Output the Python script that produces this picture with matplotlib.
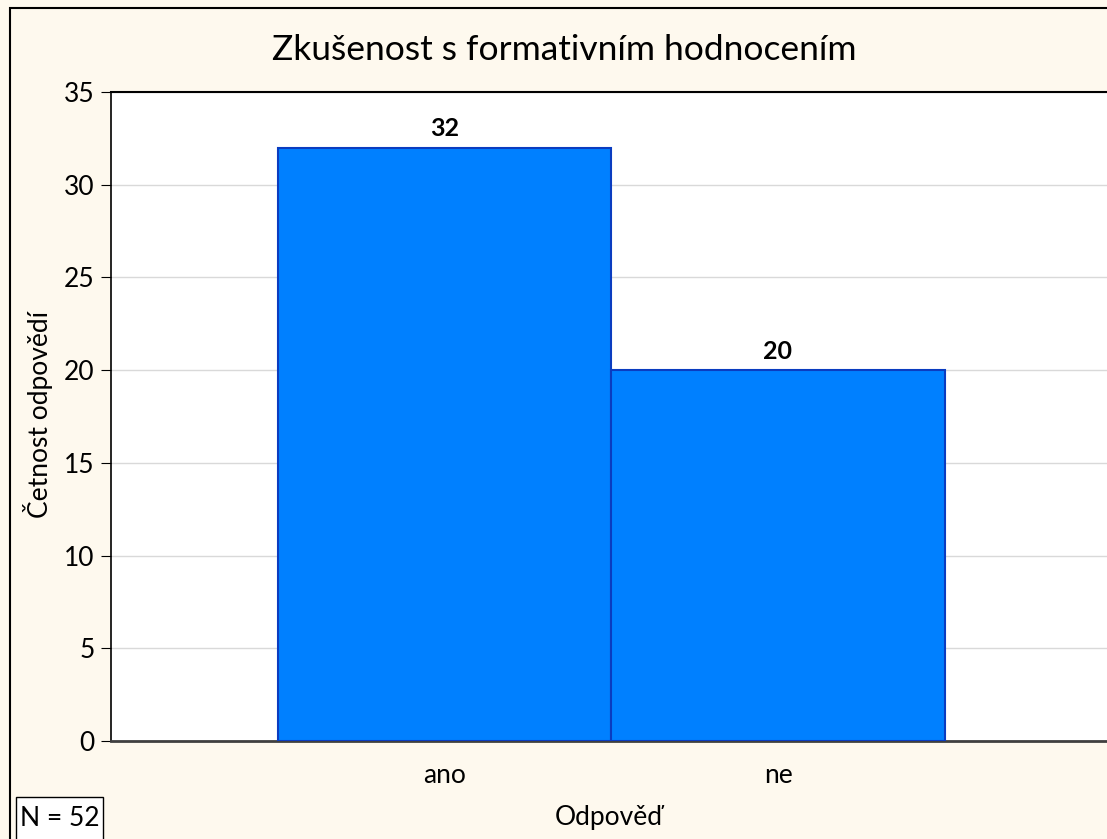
import matplotlib
matplotlib.use("Agg")
import matplotlib.pyplot as plt
from matplotlib.patches import Rectangle

categories = ["ano", "ne"]
counts = [32, 20]
yticks = [0, 5, 10, 15, 20, 25, 30, 35]
title = "Zkušenost s formativním hodnocením"
xlabel = "Odpověď"
ylabel = "Četnost odpovědí"
n_text = "N = 52"

FONT = ["Lato", "DejaVu Sans"]
plt.rcParams["font.family"] = FONT

W, H = 1107, 839
fig = plt.figure(figsize=(W / 100, H / 100), dpi=100)
bg = "#FEF9EE"
fig.patch.set_facecolor(bg)

# figure border (left/top visible)
fig.add_artist(Rectangle((10 / W, -0.1), 1.2, (H - 8) / H + 0.1, transform=fig.transFigure,
                         fill=False, edgecolor="black", linewidth=1.5))

left, right, top, bottom = 111, 1111.5, 92, 741
ax = fig.add_axes([left / W, 1 - bottom / H, (right - left) / W, (bottom - top) / H])
ax.set_facecolor("white")

x = list(range(len(categories)))
bars = ax.bar(x, counts, width=1.0, color="#0080FF", edgecolor="#0A3CC0", linewidth=1.5, zorder=3)
for xi, v in zip(x, counts):
    ax.text(xi, v + 0.4, str(v), ha="center", va="bottom", fontsize=18, fontweight="bold", zorder=4)

ax.set_xlim(-1, 2)
ax.set_ylim(0, 35)
ax.set_yticks(yticks)
ax.set_yticklabels([str(t) for t in yticks], fontsize=19)
ax.set_xticks(x)
ax.set_xticklabels(categories, fontsize=19)
ax.tick_params(axis="x", length=3, direction="in", pad=16)
ax.tick_params(axis="y", length=7, direction="out", pad=5, color="black")
ax.grid(axis="y", color="#D9D9D9", linewidth=1, zorder=0)

ax.spines["right"].set_visible(False)
ax.spines["top"].set_linewidth(1.5)
ax.spines["left"].set_linewidth(1.2)
ax.spines["bottom"].set_color("#404040")
ax.spines["bottom"].set_linewidth(2)

fig.text(564 / W, 1 - 50 / H, title, ha="center", va="center", fontsize=25.5)
fig.text(38 / W, 1 - 415 / H, ylabel, ha="center", va="center", rotation=90, fontsize=19)
fig.text(609 / W, 1 - 818 / H, xlabel, ha="center", va="center", fontsize=19)

# N box (runs off the bottom edge)
fig.add_artist(Rectangle((16 / W, -0.05), (103 - 16) / W, (H - 797) / H + 0.05,
                         transform=fig.transFigure, facecolor="white", edgecolor="black", linewidth=1))
fig.text(59.5 / W, 1 - 819 / H, n_text, ha="center", va="center", fontsize=19)

fig.savefig("out.png", dpi=100, facecolor=bg)
